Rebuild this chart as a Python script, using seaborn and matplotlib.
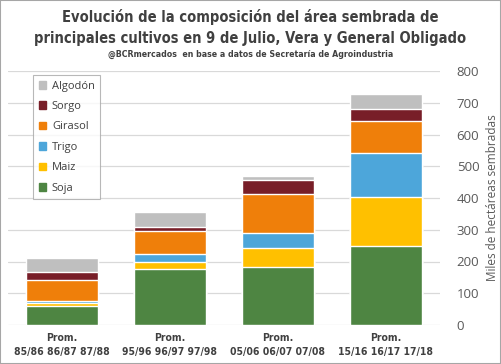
import matplotlib
matplotlib.use('Agg')
import matplotlib.pyplot as plt
import matplotlib.patches as mpatches
import numpy as np
import pandas as pd
import seaborn as sns

periodos = ['Prom.\n85/86 86/87 87/88', 'Prom.\n95/96 96/97 97/98',
            'Prom.\n05/06 06/07 07/08', 'Prom.\n15/16 16/17 17/18']
cultivos = ['Soja', 'Maiz', 'Trigo', 'Girasol', 'Sorgo', 'Algodón']
soja = [60, 176, 184, 249]
maiz = [9, 24, 59, 153]
trigo = [7, 24, 46, 139]
girasol = [66, 71, 123, 102]
sorgo = [25, 14, 45, 38]
algodon = [45, 47, 13, 48]
colores = ['#4E8542', '#FFC000', '#4DA6DA', '#EF7F0A', '#781E28', '#BFBFBF']

sns.set_style('white')
plt.rcParams['font.family'] = ['Open Sans', 'DejaVu Sans']

df = pd.DataFrame({'Periodo': periodos, 'Soja': soja, 'Maiz': maiz, 'Trigo': trigo,
                   'Girasol': girasol, 'Sorgo': sorgo, 'Algodón': algodon})

fig = plt.figure(figsize=(5.01, 3.64), dpi=100)
ax = fig.add_axes([8 / 501, 1 - 325 / 364, 432 / 501, 254 / 364])

# stacked bars: draw cumulative totals from the top down
acum = df[cultivos].cumsum(axis=1)
for cultivo, color in reversed(list(zip(cultivos, colores))):
    sns.barplot(x=df['Periodo'], y=acum[cultivo], color=color, width=0.667,
                saturation=1, ax=ax, zorder=3)

cond = dict(family='DejaVu Sans', fontstretch='condensed', fontweight='bold', color='#404040')

ax.set_ylim(0, 800)
ax.set_xlim(-0.5, 3.5)
ax.set_yticks(range(0, 801, 100))
ax.yaxis.tick_right()
ax.yaxis.set_label_position('right')
ax.tick_params(axis='y', length=0, labelsize=9.5, labelcolor='#595959', pad=12)
ax.tick_params(axis='x', length=0, pad=6)
ax.set_xticks(range(4))
ax.set_xticklabels(periodos, fontsize=7.5, linespacing=1.4, **cond)
ax.set_xlabel('')
ax.set_ylabel('Miles de hectáreas sembradas', fontsize=8.5, color='#595959', labelpad=5)
ax.grid(axis='y', color='#D9D9D9', lw=0.9, zorder=0)
for s in ax.spines.values():
    s.set_visible(False)

handles = [mpatches.Patch(color=c, label=n) for n, c in zip(cultivos, colores)][::-1]
leg = ax.legend(handles=handles, loc='upper left', bbox_to_anchor=(25 / 432, 1 - 4 / 254),
                borderaxespad=0, fontsize=8, frameon=True, fancybox=False,
                handlelength=0.7, handleheight=0.7, labelspacing=0.85, borderpad=0.5,
                handletextpad=0.5, labelcolor='#404040')
leg.get_frame().set_edgecolor('#A6A6A6')
leg.get_frame().set_linewidth(0.8)

fig.text(0.5, 1 - 17 / 364, 'Evolución de la composición del área sembrada de',
         ha='center', va='center', fontsize=10.5, **cond)
fig.text(0.5, 1 - 38 / 364, 'principales cultivos en 9 de Julio, Vera y General Obligado',
         ha='center', va='center', fontsize=10.5, **cond)
fig.text(0.5, 1 - 54 / 364, '@BCRmercados  en base a datos de Secretaría de Agroindustria',
         ha='center', va='center', fontsize=6.3, **cond)

fig.patches.append(mpatches.Rectangle((0, 0), 1, 1, transform=fig.transFigure,
                                      fill=False, edgecolor='#A6A6A6', lw=1.5))

fig.savefig('out.png', dpi=100)
